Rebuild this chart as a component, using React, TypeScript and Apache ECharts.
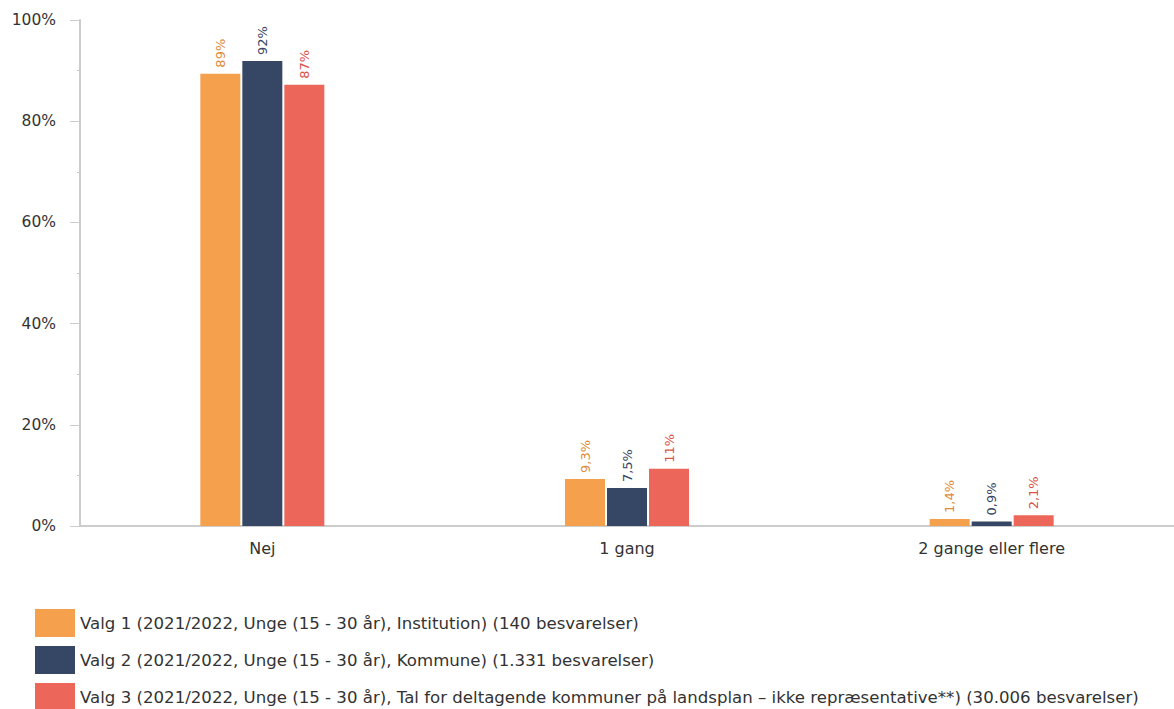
import React, { useEffect, useRef } from "react";
import * as echarts from "echarts";

const categories = ["Nej", "1 gang", "2 gange eller flere"];
const seriesNames = [
  "Valg 1 (2021/2022, Unge (15 - 30 år), Institution) (140 besvarelser)",
  "Valg 2 (2021/2022, Unge (15 - 30 år), Kommune) (1.331 besvarelser)",
  "Valg 3 (2021/2022, Unge (15 - 30 år), Tal for deltagende kommuner på landsplan – ikke repræsentative**) (30.006 besvarelser)",
];
const valg1 = [89.4, 9.3, 1.4];
const valg2 = [91.9, 7.5, 0.9];
const valg3 = [87.2, 11.3, 2.1];
const colors = ["#F4A04D", "#364665", "#EC675A"];
const labelColors = ["#E08A35", "#364665", "#D9534A"];

const fmt = (v: number) =>
  v >= 10 ? Math.round(v) + "%" : v.toFixed(1).replace(".", ",") + "%";

export default function App() {
  const ref = useRef<HTMLDivElement>(null);
  useEffect(() => {
    const chart = echarts.init(ref.current!, null, { renderer: "svg" });
    const data = [valg1, valg2, valg3];
    chart.setOption({
      animation: false,
      textStyle: { fontFamily: "DejaVu Sans, sans-serif" },
      grid: { left: 80, top: 20, width: 1100, height: 506 },
      legend: {
        orient: "vertical",
        left: 30,
        top: 604,
        height: 140,
        itemWidth: 40,
        itemHeight: 28,
        itemGap: 9,
        icon: "rect",
        textStyle: { fontSize: 16.6, color: "#333" },
        data: seriesNames,
      },
      xAxis: {
        type: "category",
        data: categories,
        axisLine: { lineStyle: { color: "#ccc", width: 2 } },
        axisTick: { show: false },
        axisLabel: { fontSize: 16, color: "#333", margin: 14 },
      },
      yAxis: {
        type: "value",
        min: 0,
        max: 100,
        interval: 20,
        axisLine: { show: true, lineStyle: { color: "#ccc", width: 2 } },
        axisTick: { show: true, length: 10, lineStyle: { color: "#ccc" } },
        minorTick: { show: true, splitNumber: 2, length: 3, lineStyle: { color: "#ccc" } },
        splitLine: { show: false },
        axisLabel: { fontSize: 15.5, color: "#333", margin: 24, formatter: "{value}%" },
      },
      series: seriesNames.map((n, i) => ({
        name: n,
        type: "bar",
        data: data[i],
        barWidth: 40,
        barGap: "5%",
        itemStyle: { color: colors[i] },
        label: {
          show: true,
          position: "top",
          rotate: 90,
          align: "left",
          verticalAlign: "middle",
          distance: 6,
          fontSize: 13,
          color: labelColors[i],
          formatter: (p: any) => fmt(p.value),
        },
      })),
    });
    return () => chart.dispose();
  }, []);
  return <div ref={ref} style={{ width: 1174, height: 709, position: "absolute", left: 0, top: 0 }} />;
}
